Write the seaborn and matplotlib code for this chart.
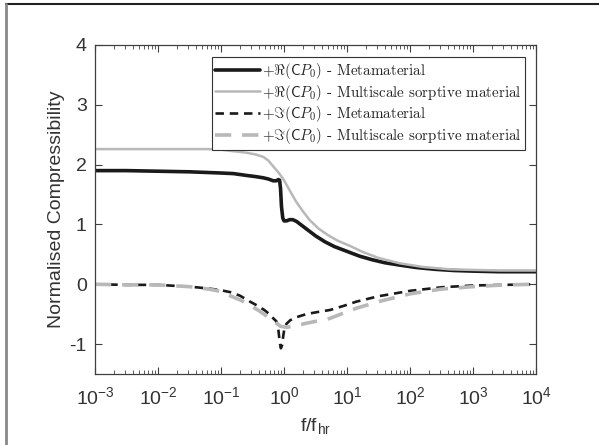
import numpy as np
import pandas as pd
import seaborn as sns
import matplotlib.pyplot as plt
from matplotlib.lines import Line2D

# log10(f/f_hr) sample positions
re_meta_x = [-3.0, -2.5, -2.0, -1.5, -1.0, -0.8, -0.6, -0.45, -0.33, -0.25, -0.17, -0.12, -0.09,
             -0.07, -0.055, -0.04, -0.02, 0.0, 0.04, 0.09, 0.14, 0.2, 0.3, 0.4, 0.5, 0.65, 0.8,
             1.0, 1.2, 1.4, 1.6, 1.84, 2.1, 2.4, 2.7, 3.0, 3.4, 4.0]
re_meta_y = [1.90, 1.90, 1.89, 1.88, 1.86, 1.85, 1.82, 1.80, 1.78, 1.76, 1.73, 1.73, 1.75,
             1.74, 1.60, 1.30, 1.11, 1.06, 1.06, 1.08, 1.08, 1.05, 0.97, 0.89, 0.81, 0.71, 0.63,
             0.55, 0.47, 0.41, 0.36, 0.32, 0.28, 0.25, 0.23, 0.22, 0.21, 0.21]

re_multi_x = [-3.0, -2.5, -2.0, -1.5, -1.2, -1.0, -0.85, -0.6, -0.45, -0.33, -0.25, -0.17, -0.08,
              0.0, 0.1, 0.2, 0.3, 0.41, 0.55, 0.7, 0.85, 1.05, 1.25, 1.5, 1.84, 2.2, 2.63, 3.0,
              3.43, 4.0]
re_multi_y = [2.26, 2.26, 2.26, 2.26, 2.26, 2.25, 2.23, 2.20, 2.17, 2.13, 2.07, 1.97, 1.86,
              1.74, 1.55, 1.37, 1.22, 1.07, 0.93, 0.82, 0.73, 0.64, 0.54, 0.44, 0.35, 0.29, 0.25,
              0.24, 0.23, 0.23]

im_meta_x = [-3.0, -2.5, -2.0, -1.5, -1.2, -1.0, -0.86, -0.7, -0.54, -0.4, -0.3, -0.22, -0.17,
             -0.12, -0.09, -0.07, -0.05, -0.03, -0.01, 0.01, 0.04, 0.1, 0.2, 0.35, 0.5, 0.73,
             0.95, 1.15, 1.5, 2.0, 2.5, 3.0, 3.5, 4.0]
im_meta_y = [0.0, -0.01, -0.01, -0.04, -0.07, -0.10, -0.13, -0.19, -0.29, -0.37, -0.44, -0.51, -0.57,
             -0.62, -0.75, -0.95, -1.07, -1.02, -0.85, -0.72, -0.66, -0.60, -0.55, -0.50, -0.47, -0.43,
             -0.36, -0.29, -0.20, -0.11, -0.05, -0.02, -0.01, 0.0]

im_multi_x = [-3.0, -2.5, -2.0, -1.5, -1.2, -1.0, -0.86, -0.7, -0.54, -0.4, -0.22, -0.12, -0.06,
              0.04, 0.2, 0.36, 0.55, 0.73, 0.95, 1.15, 1.5, 2.0, 2.5, 3.0, 3.5, 4.0]
im_multi_y = [0.0, -0.01, -0.01, -0.04, -0.08, -0.12, -0.19, -0.26, -0.35, -0.44, -0.57, -0.65, -0.70,
              -0.72, -0.69, -0.65, -0.61, -0.57, -0.48, -0.40, -0.29, -0.16, -0.08, -0.04, -0.01, 0.0]

labels = [r'$+\Re(\mathsf{C}P_0)$ - Metamaterial',
          r'$+\Re(\mathsf{C}P_0)$ - Multiscale sorptive material',
          r'$+\Im(\mathsf{C}P_0)$ - Metamaterial',
          r'$+\Im(\mathsf{C}P_0)$ - Multiscale sorptive material']

sns.set_style("ticks")
plt.rcParams['font.family'] = ['Liberation Sans', 'DejaVu Sans']
plt.rcParams['mathtext.fontset'] = 'cm'
plt.rcParams['axes.unicode_minus'] = False

black = '#1a1a1a'
grey = '#b8b8b8'

fig = plt.figure(figsize=(5.99, 4.45), dpi=100)
ax = fig.add_axes([95 / 599, 1 - 374 / 445, 441 / 599, 329 / 445])

series = [
    (re_meta_x, re_meta_y, black, 2.6, None),
    (re_multi_x, re_multi_y, grey, 1.8, None),
    (im_meta_x, im_meta_y, black, 1.9, (3.2, 2.2)),
    (im_multi_x, im_multi_y, grey, 2.6, (4.5, 3.0)),
]
handles = []
for (xs, ys, c, lw, dash), lab in zip(series, labels):
    df = pd.DataFrame({"f": 10 ** np.array(xs), "v": ys})
    kw = dict(color=c, linewidth=lw)
    if dash is not None:
        kw['dashes'] = dash
    sns.lineplot(data=df, x="f", y="v", ax=ax, sort=False, estimator=None, **kw)
    handles.append(Line2D([], [], label=lab, **kw))

ax.set_xscale('log')
ax.set_xlim(1e-3, 1e4)
ax.set_ylim(-1.5, 4)
ax.set_yticks([-1, 0, 1, 2, 3, 4])
ax.set_yticklabels(['-1', '0', '1', '2', '3', '4'])
ax.set_xticks([10.0 ** k for k in range(-3, 5)])
ax.set_xticklabels([r'$\mathregular{10^{%d}}$' % k for k in range(-3, 5)])

tc = '#404040'
for s in ax.spines.values():
    s.set_visible(True)
    s.set_color(tc)
    s.set_linewidth(0.9)
ax.tick_params(which='both', direction='in', top=True, right=True, colors=tc,
               labelcolor='#333333', labelsize=14)
ax.tick_params(which='major', length=5)
ax.tick_params(which='minor', length=3)
ax.tick_params(axis='x', which='major', pad=9)
ax.tick_params(axis='y', which='major', pad=6)
ax.set_xlabel(r'f/f$_\mathregular{hr}$', fontsize=14, color='#333333', labelpad=6)
ax.set_ylabel('Normalised Compressibility', fontsize=14, color='#333333', labelpad=3)

leg = ax.legend(handles=handles, loc='upper right', bbox_to_anchor=(525 / 599, 1 - 57 / 445),
                bbox_transform=fig.transFigure, prop={'family': 'cmr10', 'size': 10.8},
                frameon=True, fancybox=False, framealpha=1, edgecolor='#333333',
                handlelength=3.0, handletextpad=0.1, borderpad=0.25, labelspacing=0.12,
                borderaxespad=0)
leg.get_frame().set_linewidth(0.8)

# outer figure frame
fig.add_artist(Line2D([6 / 599, 1], [1 - 4 / 445, 1 - 4 / 445], color='#222222', lw=1.5,
                      transform=fig.transFigure))
fig.add_artist(Line2D([6 / 599, 6 / 599], [0, 1 - 4 / 445], color='#888888', lw=2,
                      transform=fig.transFigure))

fig.savefig('out.png', dpi=100)
